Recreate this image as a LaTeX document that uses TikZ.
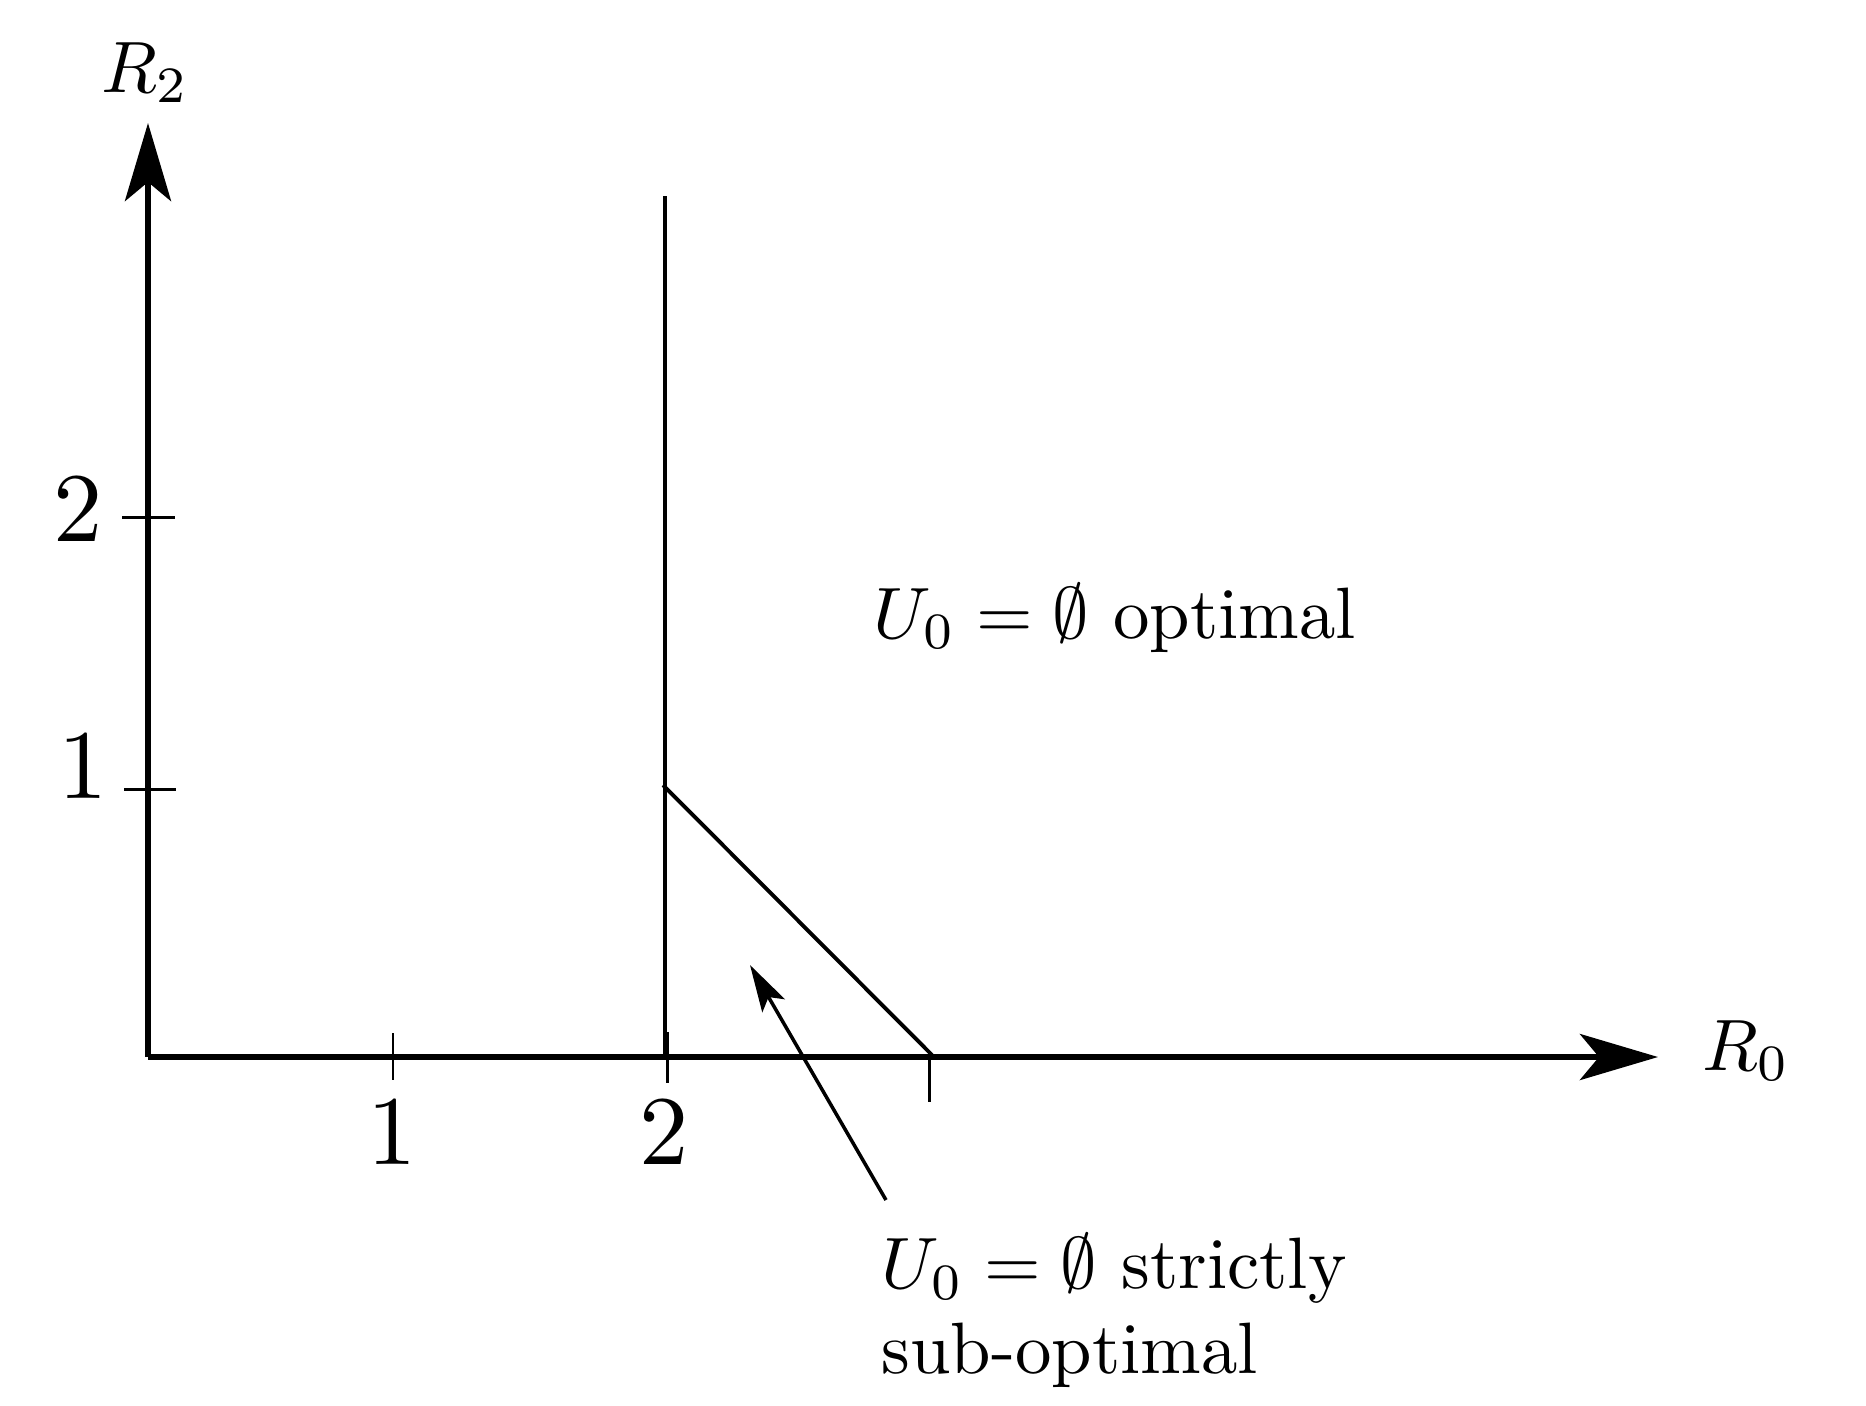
\RequirePackage{fix-cm}
\documentclass[tikz,border=0pt]{standalone}
\usetikzlibrary{arrows.meta}
\tikzset{
  axis/.style={line width=1.7pt, -{Stealth[length=0.78cm, width=0.46cm, inset=0.19cm]}},
  thinline/.style={line width=1.1pt},
  tickline/.style={line width=0.85pt},
  pointer/.style={line width=1.0pt, -{Stealth[length=0.47cm, width=0.26cm, inset=0.1cm]}},
  lbl/.style={font=\fontsize{10}{11.65}\selectfont, inner sep=0pt, anchor=base west, scale=2.07, transform shape},
  ticklbl/.style={font=\fontsize{10}{12}\selectfont, inner sep=0pt, anchor=base, scale=2.8, transform shape},
}
\begin{document}
\begin{tikzpicture}[x=0.01cm, y=-0.01cm]
\useasboundingbox (0,0) rectangle (1866,1405);
% key points
\coordinate (O) at (148,1057);
\coordinate (xend) at (1658,1057);
\coordinate (yend) at (148,123);
\coordinate (vtop) at (665,196);
\coordinate (vbot) at (665,1057);
\coordinate (d1) at (663,785);
\coordinate (d2) at (932,1055);
\coordinate (ptip) at (750,965);
\coordinate (ptail) at (886,1200);
% axes
\draw[axis] (O) -- (xend);
\draw[axis] (O) -- (yend);
% ticks
\coordinate (tx1a) at (393,1033); \coordinate (tx1b) at (393,1080);
\coordinate (tx2a) at (667,1032); \coordinate (tx2b) at (667,1083);
\coordinate (tx3a) at (929,1057); \coordinate (tx3b) at (929,1102);
\coordinate (ty2a) at (122,517); \coordinate (ty2b) at (175,517);
\coordinate (ty1a) at (124,789); \coordinate (ty1b) at (176,789);
\draw[tickline] (tx1a) -- (tx1b);
\draw[tickline] (tx2a) -- (tx2b);
\draw[tickline] (tx3a) -- (tx3b);
\draw[tickline] (ty2a) -- (ty2b);
\draw[tickline] (ty1a) -- (ty1b);
% region boundaries
\draw[thinline] (vtop) -- (vbot);
\draw[thinline] (d1) -- (d2);
% pointer arrow
\draw[pointer] (ptail) -- (ptip);
% labels
\node[lbl] (R2) at (100,92) {$R_2$};
\node[lbl] (R0) at (1701,1070) {$R_0$};
\node[lbl] (opt) at (872,638) {$U_0=\emptyset$ optimal};
\node[lbl, align=left] (subopt) at (880,1373) {$U_0=\emptyset$ strictly\\sub-optimal};
\node[ticklbl] (lx1) at (392,1164) {1};
\node[ticklbl] (lx2) at (664,1164) {2};
\node[ticklbl] (ly2) at (78,541) {2};
\node[ticklbl] (ly1) at (83,798) {1};
\end{tikzpicture}
\end{document}
